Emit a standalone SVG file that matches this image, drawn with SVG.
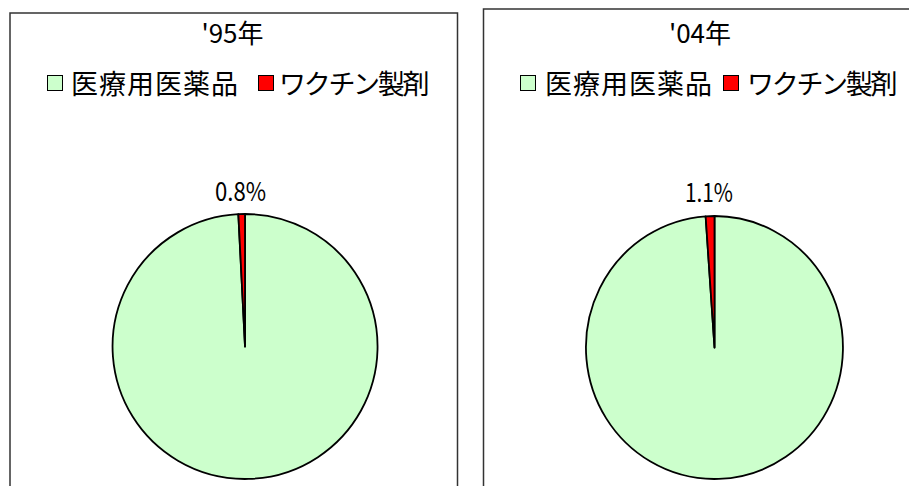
<svg xmlns="http://www.w3.org/2000/svg" width="909" height="486" viewBox="0 0 909 486">
<style>
  text { font-family: "Noto Sans CJK JP", "Noto Sans", sans-serif; fill: #000; }
  .frame { fill: #fff; stroke: #333; stroke-width: 1.5; }
  .title { font-size: 26px; text-anchor: middle; }
  .leg { font-size: 27px; }
  .pct { font-size: 26px; text-anchor: middle; }
  .g { fill: #CCFFCC; }
  .r { fill: #FF0000; }
  .sw { stroke: #000; stroke-width: 1; }
  .slice { stroke: #000; stroke-width: 1.8; stroke-linejoin: round; }
</style>
<rect width="909" height="486" fill="#fff"/>
<g id="chart-1995">
  <rect class="frame" x="10" y="13" width="447.5" height="480"/>
  <text class="title" x="232.5" y="43">'95年</text>
  <g id="legend-1995">
    <rect class="g sw" x="47.5" y="75.5" width="15" height="15"/>
    <text class="leg" x="71" y="94" letter-spacing="1">医療用医薬品</text>
    <rect class="r sw" x="258.5" y="75.5" width="15" height="15"/>
    <text class="leg" x="279" y="94" letter-spacing="-2.3">ワクチン製剤</text>
  </g>
  <g id="pie-1995">
    <path class="g slice" d="M245,346.5 L245,214 A132.5,132.5 0 1,1 238.34,214.17 Z"/>
    <path class="r slice" d="M245,346.5 L238.34,214.17 A132.5,132.5 0 0,1 245,214 Z"/>
    <text class="pct" x="240.5" y="201" textLength="51" lengthAdjust="spacingAndGlyphs">0.8%</text>
  </g>
</g>
<g id="chart-2004">
  <rect class="frame" x="483.5" y="9" width="440" height="490"/>
  <text class="title" x="700" y="43">'04年</text>
  <g id="legend-2004">
    <rect class="g sw" x="520.5" y="75.5" width="15" height="15"/>
    <text class="leg" x="545" y="94" letter-spacing="1">医療用医薬品</text>
    <rect class="r sw" x="723.5" y="75.5" width="15" height="15"/>
    <text class="leg" x="747" y="94" letter-spacing="-2.3">ワクチン製剤</text>
  </g>
  <g id="pie-2004">
    <path class="g slice" d="M714.5,347.5 L714.5,216 A128.5,131.5 0 1,1 705.63,216.31 Z"/>
    <path class="r slice" d="M714.5,347.5 L705.63,216.31 A128.5,131.5 0 0,1 714.5,216 Z"/>
    <text class="pct" x="709" y="202" textLength="48" lengthAdjust="spacingAndGlyphs">1.1%</text>
  </g>
</g>
<g id="connectors"/>
</svg>
